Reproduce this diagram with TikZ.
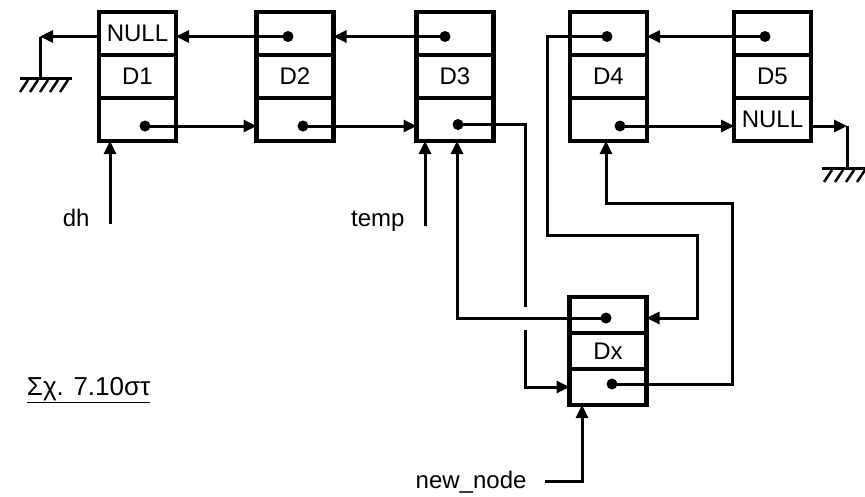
\documentclass[tikz,border=0pt]{standalone}
\usepackage{fontspec}
\setmainfont{Liberation Sans}
\usetikzlibrary{positioning,arrows.meta}

\tikzset{
  cell/.style={draw, line width=4.5pt, rectangle, minimum width=77pt,
    minimum height=43pt, inner sep=0pt, outer sep=0pt},
  xcell/.style={cell, minimum height=36pt},
  wire/.style={line width=3pt},
  hatch/.style={line width=2.5pt},
  arr/.style={wire, -{Triangle[length=13pt,width=12pt]}},
}

\begin{document}
\begin{tikzpicture}[x=1pt, y=-1pt, font=\fontsize{24}{28}\selectfont]
    \useasboundingbox (0,0) rectangle (865,496);

    % the list D1..D5
    \foreach \i/\x/\pv/\nv in {1/137.5/NULL/, 2/295//, 3/455//, 4/608.5//, 5/772.5//NULL} {
        \node (prev\i) [cell] at (\x,33.5) {\pv};
        \node (data\i) [cell, below=0pt of prev\i] {D\i};
        \node (next\i) [cell, below=0pt of data\i] {\nv};
    }

    % the new node
    \node (prevx) [xcell] at (608,315) {};
    \node (datax) [xcell, below=0pt of prevx] {Dx};
    \node (nextx) [xcell, below=0pt of datax] {};

    % pointer dots
    \coordinate (pp2) at ([shift={(-7,3)}]prev2.center);
    \coordinate (pp3) at ([shift={(-10,3)}]prev3.center);
    \coordinate (pp4) at ([shift={(-1.5,3)}]prev4.center);
    \coordinate (pp5) at ([shift={(-7.5,3)}]prev5.center);
    \coordinate (np1) at ([shift={(7.5,6.5)}]next1.center);
    \coordinate (np2) at ([shift={(8,6.5)}]next2.center);
    \coordinate (np3) at ([shift={(3,5)}]next3.center);
    \coordinate (np4) at ([shift={(11.5,6.5)}]next4.center);
    \coordinate (ppx) at ([shift={(-2,3)}]prevx.center);
    \coordinate (npx) at ([shift={(4,-3)}]nextx.center);
    \foreach \d in {pp2,pp3,pp4,pp5,np1,np2,np3,np4,ppx,npx}
        \fill (\d) circle (5.5pt);

    % links of the list
    \draw[arr] (pp2) -- (prev1.east |- pp2);
    \draw[arr] (pp3) -- (prev2.east |- pp3);
    \draw[arr] (pp5) -- (prev4.east |- pp5);
    \draw[arr] (np1) -- (next2.west |- np1);
    \draw[arr] (np2) -- (next3.west |- np2);
    \draw[arr] (np4) -- (next5.west |- np4);

    % NULL ends and grounds
    \coordinate (gnd1) at (40,36.5);
    \draw[arr] (prev1.west |- pp2) -- (gnd1);
    \draw[wire] (gnd1) -- (40,78) (20,78) -- (72,78);
    \foreach \h in {28,38,48,58,68}
        \draw[hatch] (\h,80) -- ++(-8,12);
    \coordinate (gnd2) at (847,126);
    \draw[arr] (next5.east |- np4) -- (gnd2);
    \draw[wire] (gnd2) -- (847,168) (822,168) -- (870,168);
    \foreach \h in {832,843,854,865}
        \draw[hatch] (\h,170) -- ++(-8,12);

    % links to and from Dx
    \coordinate (j1) at (525,307);
    \coordinate (j2) at (525,330);
    \draw[wire] (np3) -| (j1);
    \draw[arr] (j2) |- (nextx.west);
    \draw[arr] (ppx) -| ([xshift=2pt]next3.south);
    \coordinate (k1) at (547,235);
    \coordinate (k2) at (697,318);
    \draw[arr] (pp4) -| (k1) -| (k2) -- (prevx.east |- k2);
    \coordinate (m1) at (732,203);
    \draw[arr] (npx) -| (m1) -| ([xshift=-2.5pt]next4.south);

    % outside pointers
    \node (dh) [anchor=base east] at (93,226) {dh};
    \coordinate (dhp) at (110,224);
    \draw[arr] (dhp) -- (dhp |- next1.south);
    \node (temp) [anchor=base east] at (408,226) {temp};
    \coordinate (tp) at (425,226);
    \draw[arr] (tp) -- (tp |- next3.south);
    \node (nn) [anchor=base east] at (530,488) {new\_node};
    \draw[arr] ([xshift=15pt]nn.east) -| ([xshift=-26pt]nextx.south);

    \node (cap) [anchor=base east, font=\fontsize{26}{30}\selectfont] at (154,395) {\underline{Σχ. 7.10στ}};
\end{tikzpicture}
\end{document}
